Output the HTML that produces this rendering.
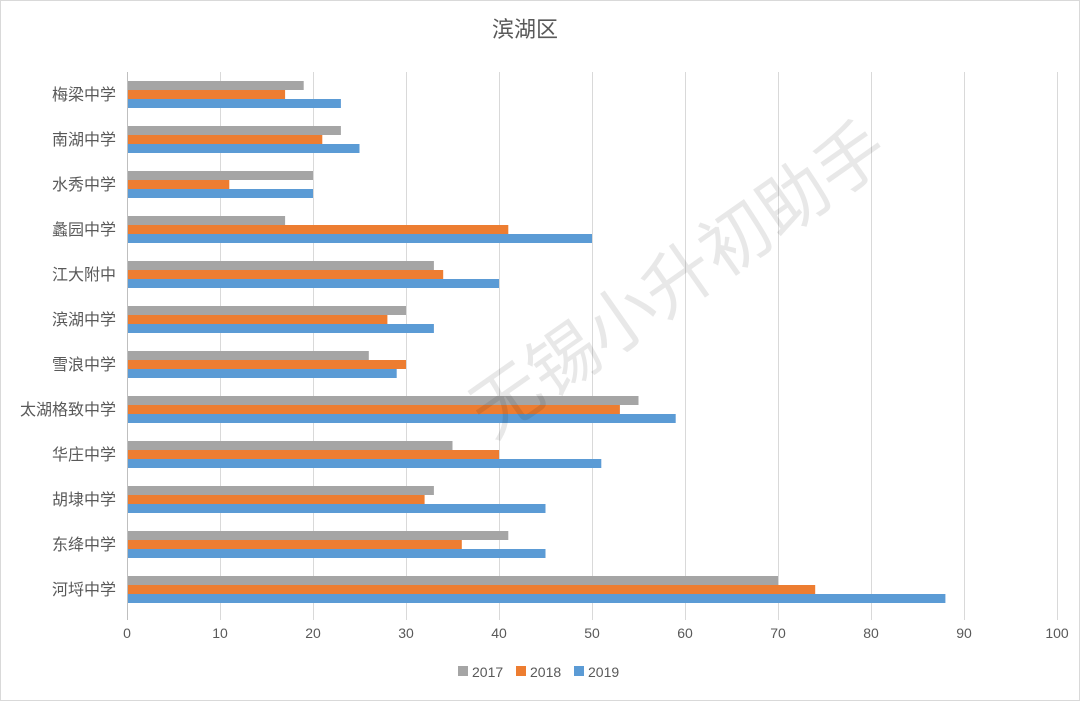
<!DOCTYPE html>
<html><head><meta charset="utf-8"><style>
html,body{margin:0;padding:0;background:#fff}
svg{display:block}
text{font-family:"Liberation Sans","Noto Sans CJK SC",sans-serif}
</style></head><body>
<svg width="1080" height="701" viewBox="0 0 1080 701" xmlns="http://www.w3.org/2000/svg">
<rect x="0.5" y="0.5" width="1079" height="700" fill="#fff" stroke="#d9d9d9"/>
<text x="525" y="37" font-size="22" fill="#595959" text-anchor="middle">滨湖区</text>
<g stroke="#d9d9d9" stroke-width="1">
<line x1="220.5" y1="72" x2="220.5" y2="620"/><line x1="313.5" y1="72" x2="313.5" y2="620"/>
<line x1="406.5" y1="72" x2="406.5" y2="620"/><line x1="499.5" y1="72" x2="499.5" y2="620"/>
<line x1="592.5" y1="72" x2="592.5" y2="620"/><line x1="685.5" y1="72" x2="685.5" y2="620"/>
<line x1="778.5" y1="72" x2="778.5" y2="620"/><line x1="871.5" y1="72" x2="871.5" y2="620"/>
<line x1="964.5" y1="72" x2="964.5" y2="620"/><line x1="1057.5" y1="72" x2="1057.5" y2="620"/>
</g>
<g>
<rect x="128" y="81" width="175.7" height="9" fill="#a5a5a5"/><rect x="128" y="90" width="157.1" height="9" fill="#ed7d31"/><rect x="128" y="99" width="212.9" height="9" fill="#5b9bd5"/>
<rect x="128" y="126" width="212.9" height="9" fill="#a5a5a5"/><rect x="128" y="135" width="194.3" height="9" fill="#ed7d31"/><rect x="128" y="144" width="231.5" height="9" fill="#5b9bd5"/>
<rect x="128" y="171" width="185" height="9" fill="#a5a5a5"/><rect x="128" y="180" width="101.3" height="9" fill="#ed7d31"/><rect x="128" y="189" width="185" height="9" fill="#5b9bd5"/>
<rect x="128" y="216" width="157.1" height="9" fill="#a5a5a5"/><rect x="128" y="225" width="380.3" height="9" fill="#ed7d31"/><rect x="128" y="234" width="464" height="9" fill="#5b9bd5"/>
<rect x="128" y="261" width="305.9" height="9" fill="#a5a5a5"/><rect x="128" y="270" width="315.2" height="9" fill="#ed7d31"/><rect x="128" y="279" width="371" height="9" fill="#5b9bd5"/>
<rect x="128" y="306" width="278" height="9" fill="#a5a5a5"/><rect x="128" y="315" width="259.4" height="9" fill="#ed7d31"/><rect x="128" y="324" width="305.9" height="9" fill="#5b9bd5"/>
<rect x="128" y="351" width="240.8" height="9" fill="#a5a5a5"/><rect x="128" y="360" width="278" height="9" fill="#ed7d31"/><rect x="128" y="369" width="268.7" height="9" fill="#5b9bd5"/>
<rect x="128" y="396" width="510.5" height="9" fill="#a5a5a5"/><rect x="128" y="405" width="491.9" height="9" fill="#ed7d31"/><rect x="128" y="414" width="547.7" height="9" fill="#5b9bd5"/>
<rect x="128" y="441" width="324.5" height="9" fill="#a5a5a5"/><rect x="128" y="450" width="371" height="9" fill="#ed7d31"/><rect x="128" y="459" width="473.3" height="9" fill="#5b9bd5"/>
<rect x="128" y="486" width="305.9" height="9" fill="#a5a5a5"/><rect x="128" y="495" width="296.6" height="9" fill="#ed7d31"/><rect x="128" y="504" width="417.5" height="9" fill="#5b9bd5"/>
<rect x="128" y="531" width="380.3" height="9" fill="#a5a5a5"/><rect x="128" y="540" width="333.8" height="9" fill="#ed7d31"/><rect x="128" y="549" width="417.5" height="9" fill="#5b9bd5"/>
<rect x="128" y="576" width="650" height="9" fill="#a5a5a5"/><rect x="128" y="585" width="687.2" height="9" fill="#ed7d31"/><rect x="128" y="594" width="817.4" height="9" fill="#5b9bd5"/>
</g>
<line x1="127.5" y1="72" x2="127.5" y2="620" stroke="#bfbfbf"/>
<g font-size="16" fill="#595959" text-anchor="end">
<text x="116" y="100">梅梁中学</text><text x="116" y="145">南湖中学</text><text x="116" y="190">水秀中学</text><text x="116" y="235">蠡园中学</text><text x="116" y="280">江大附中</text><text x="116" y="325">滨湖中学</text><text x="116" y="370">雪浪中学</text><text x="116" y="415">太湖格致中学</text><text x="116" y="460">华庄中学</text><text x="116" y="505">胡埭中学</text><text x="116" y="550">东绛中学</text><text x="116" y="595">河埒中学</text>
</g>
<g font-size="14" fill="#595959" text-anchor="middle">
<text x="127" y="638">0</text><text x="220" y="638">10</text><text x="313" y="638">20</text><text x="406" y="638">30</text><text x="499" y="638">40</text><text x="592" y="638">50</text><text x="685" y="638">60</text><text x="778" y="638">70</text><text x="871" y="638">80</text><text x="964" y="638">90</text><text x="1057" y="638">100</text>
</g>
<g font-size="14" fill="#595959">
<rect x="458" y="666" width="10" height="10" fill="#a5a5a5"/><text x="472" y="677">2017</text>
<rect x="516" y="666" width="10" height="10" fill="#ed7d31"/><text x="530" y="677">2018</text>
<rect x="574" y="666" width="10" height="10" fill="#5b9bd5"/><text x="588" y="677">2019</text>
</g>
<text x="0" y="0" font-size="70" fill="#000" fill-opacity="0.09" transform="translate(492,440) rotate(-35)">无锡小升初助手</text>
</svg>
</body></html>
